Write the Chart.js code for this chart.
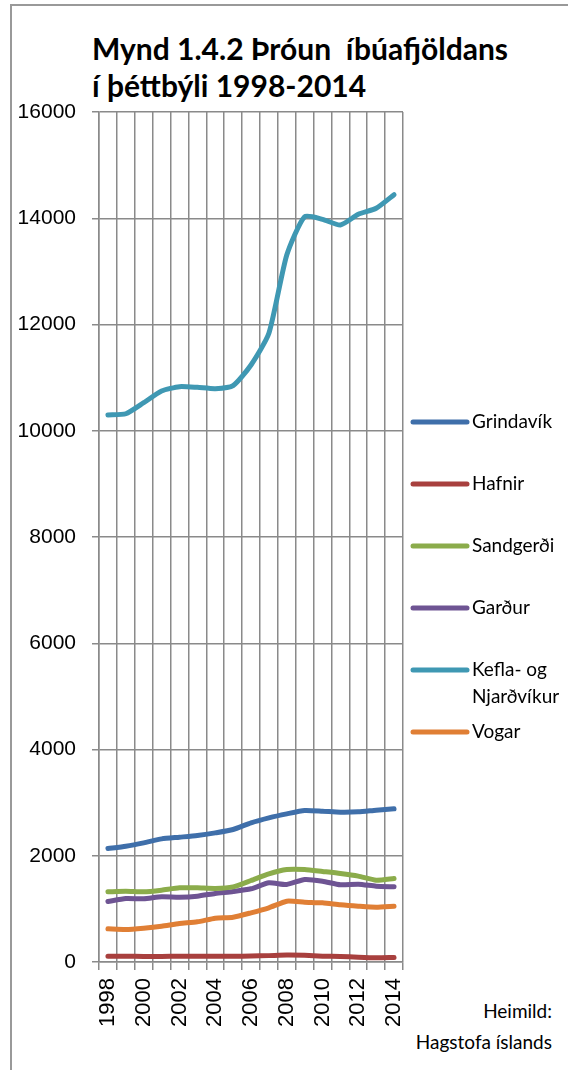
<!DOCTYPE html>
<html>
<head>
<meta charset="utf-8">
<script src="https://cdn.jsdelivr.net/npm/chart.js@4"></script>
<style>
  html, body { margin: 0; padding: 0; background: #fff; }
  body { width: 568px; height: 1070px; position: relative; overflow: hidden; }
  #frame { position: absolute; left: 10px; top: 4px; width: 600px; height: 1100px; border: 2px solid #999; }
  #title { position: absolute; left: 92px; top: 30px; font: bold 30px Lato, "Open Sans", sans-serif; line-height: 37px; color: #000; }
  #source { position: absolute; right: 16px; top: 995px; font: 19px Lato, "Open Sans", sans-serif; line-height: 31px; text-align: right; color: #000; }
  #wrap { position: absolute; left: 0; top: 0; width: 568px; height: 1070px; }
</style>
</head>
<body>
<div id="frame"></div>
<div id="title">Mynd 1.4.2 Þróun&nbsp; íbúafjöldans<br>í þéttbýli 1998-2014</div>
<div id="source">Heimild:<br>Hagstofa íslands</div>
<div id="wrap"><canvas id="chart"></canvas></div>
<script>
const years = ['1998', '1999', '2000', '2001', '2002', '2003', '2004', '2005', '2006',
    '2007', '2008', '2009', '2010', '2011', '2012', '2013', '2014'];

const grindavik = [2136, 2180, 2243, 2318, 2349, 2381, 2431, 2494, 2620, 2714, 2789, 2852, 2839, 2820, 2827, 2858, 2883];
const hafnir = [110, 110, 105, 105, 110, 110, 108, 108, 112, 120, 130, 125, 110, 105, 90, 80, 85];
const sandgerdi = [1321, 1333, 1321, 1352, 1396, 1396, 1384, 1415, 1534, 1660, 1741, 1741, 1704, 1666, 1616, 1540, 1572];
const gardur = [1139, 1195, 1190, 1227, 1220, 1239, 1290, 1327, 1378, 1490, 1459, 1553, 1521, 1453, 1465, 1427, 1415];
const keflavik = [10296, 10320, 10528, 10748, 10830, 10817, 10792, 10848, 11238, 11834, 13308, 14030, 13980, 13873, 14074, 14187, 14443];
const vogar = [625, 612, 637, 674, 725, 756, 825, 844, 926, 1020, 1145, 1126, 1114, 1077, 1051, 1032, 1051];

const seriesNames = ['Grindavík', 'Hafnir', 'Sandgerði', 'Garður', 'Kefla- og Njarðvíkur', 'Vogar'];
const seriesData = [grindavik, hafnir, sandgerdi, gardur, keflavik, vogar];
const seriesColors = ['#3F6FAA', '#A8403E', '#8BAC4B', '#6E5493', '#3F98B3', '#E07F35'];

const yTicks = [0, 2000, 4000, 6000, 8000, 10000, 12000, 14000, 16000];

// legend drawn at the right, like the original
const sideLegend = {
    id: 'sideLegend',
    afterDraw(chart) {
        const ctx = chart.ctx;
        const x0 = 413, x1 = 467, tx = 472;
        let y = 422;
        ctx.save();
        ctx.font = '19px Lato, "Open Sans", sans-serif';
        ctx.textBaseline = 'middle';
        ctx.fillStyle = '#000';
        chart.data.datasets.forEach(ds => {
            ctx.strokeStyle = ds.borderColor;
            ctx.lineWidth = 5;
            ctx.lineCap = 'round';
            ctx.beginPath();
            ctx.moveTo(x0, y);
            ctx.lineTo(x1, y);
            ctx.stroke();
            // wrap long labels
            const words = ds.label.split(' ');
            const lines = [];
            let cur = '';
            words.forEach(w => {
                const test = cur ? cur + ' ' + w : w;
                if (cur && ctx.measureText(test).width > 92) {
                    lines.push(cur);
                    cur = w;
                } else {
                    cur = test;
                }
            });
            lines.push(cur);
            lines.forEach((l, i) => ctx.fillText(l, tx, y + i * 27));
            y += 62;
        });
        ctx.restore();
    }
};

const ctx = document.getElementById('chart').getContext('2d');

const chart = new Chart(ctx, {
    type: 'line',
    data: {
        labels: years,
        datasets: seriesNames.map((name, i) => ({
            label: name,
            data: seriesData[i],
            borderColor: seriesColors[i],
            backgroundColor: seriesColors[i],
            borderWidth: 5,
            borderCapStyle: 'round',
            borderJoinStyle: 'round',
            pointRadius: 0,
            tension: 0.2,
            fill: false
        }))
    },
    options: {
        responsive: true,
        maintainAspectRatio: false,
        animation: false,
        layout: { padding: { left: 10, top: 112, right: 165, bottom: 0 } },
        plugins: {
            legend: { display: false },
            tooltip: { enabled: false }
        },
        scales: {
            x: {
                offset: true,
                grid: { offset: true, color: '#8A8A8A', lineWidth: 1.5, tickLength: 8, drawTicks: true },
                border: { color: '#8A8A8A', width: 1.5 },
                ticks: {
                    minRotation: 90, maxRotation: 90, autoSkip: false,
                    padding: 8,
                    color: '#000',
                    font: { family: '"Liberation Sans", Arial, sans-serif', size: 22 },
                    callback: function (v, i) { return i % 2 === 0 ? this.getLabelForValue(v) : ''; }
                },
                afterFit(scale) { scale.height = 108; }
            },
            y: {
                min: 0,
                max: 16000,
                afterBuildTicks(scale) { scale.ticks = yTicks.map(v => ({ value: v })); },
                grid: { color: '#8A8A8A', lineWidth: 1.5, tickLength: 7 },
                border: { color: '#8A8A8A', width: 1.5 },
                ticks: {
                    padding: 16,
                    color: '#000',
                    font: { family: '"Liberation Sans", Arial, sans-serif', size: 21 },
                    callback: v => String(v)
                },
                afterFit(scale) { scale.width = 89; }
            }
        }
    },
    plugins: [sideLegend]
});
</script>
</body>
</html>
